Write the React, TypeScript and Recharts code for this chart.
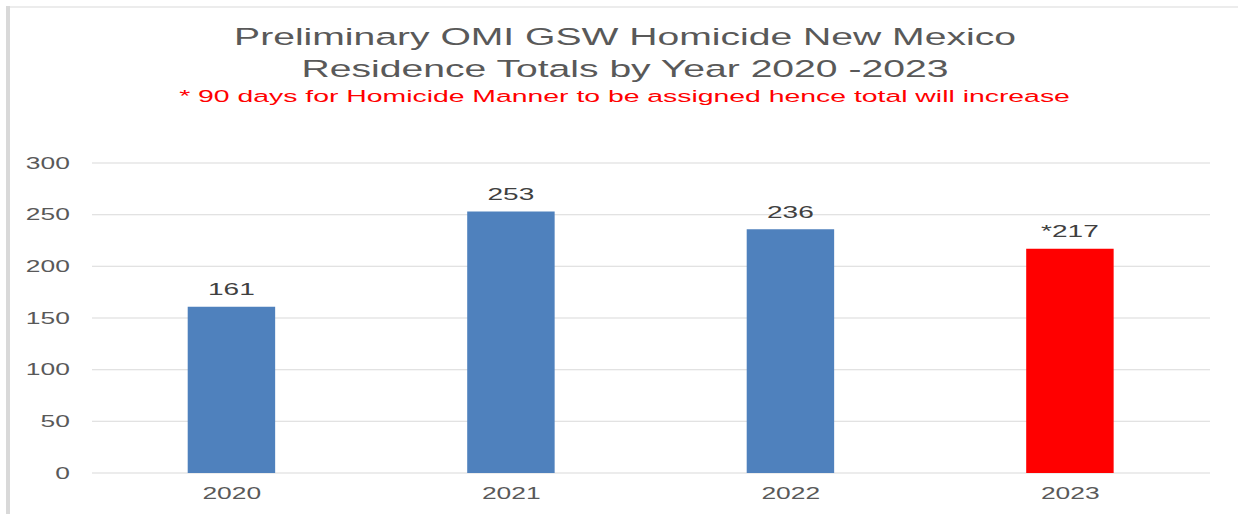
import { Bar, BarChart, CartesianGrid, Cell, LabelList, XAxis, YAxis } from "recharts";

const years = ["2020", "2021", "2022", "2023"];
const homicides = [161, 253, 236, 217];
const preliminary = [false, false, false, true];
const yTicks = [0, 50, 100, 150, 200, 250, 300];

const data = years.map((year, i) => ({
  year,
  total: homicides[i],
  preliminary: preliminary[i],
}));

// the source picture is horizontally stretched, so everything is drawn narrow and scaled up
const STRETCH = 1.65;
const W = 750;
const H = 514;
const FONT = "'Liberation Sans', Arial, sans-serif";

const YTick = (props: any) => (
  <text
    x={props.x}
    y={props.y}
    dy="0.355em"
    textAnchor="end"
    fill="#595959"
    fontSize={16}
    fontFamily={FONT}
  >
    {props.payload.value}
  </text>
);

const XTick = (props: any) => (
  <text
    x={props.x}
    y={props.y}
    dy={26}
    textAnchor="middle"
    fill="#595959"
    fontSize={16}
    fontFamily={FONT}
  >
    {props.payload.value}
  </text>
);

const ValueLabel = (props: any) => {
  const { x, y, width, index, value } = props;
  const mark = data[index].preliminary ? "*" : "";
  return (
    <text
      x={x + width / 2}
      y={y - 11.6}
      textAnchor="middle"
      fill="#404040"
      fontSize={17}
      fontFamily={FONT}
    >
      {mark + value}
    </text>
  );
};

export default function App() {
  return (
    <div
      style={{
        position: "absolute",
        left: 0,
        top: 0,
        width: 1238,
        height: H,
        background: "#fff",
        overflow: "hidden",
      }}
    >
      <div
        style={{
          position: "absolute",
          left: 6,
          top: 6,
          width: 1232,
          height: 1.5,
          background: "#ececec",
        }}
      />
      <div
        style={{
          position: "absolute",
          left: 6,
          top: 6,
          width: 4,
          height: H,
          background: "#d9d9d9",
        }}
      />

      <div
        style={{
          position: "absolute",
          left: 0,
          top: 0,
          width: W,
          height: H,
          transform: `scaleX(${STRETCH})`,
          transformOrigin: "0 0",
          fontFamily: FONT,
        }}
      >
        <div
          style={{
            position: "absolute",
            left: 0,
            top: 25.6,
            width: 757.6,
            textAlign: "center",
            color: "#595959",
            fontSize: 23.7,
            lineHeight: 1,
            whiteSpace: "nowrap",
          }}
        >
          Preliminary OMI GSW Homicide New Mexico
        </div>
        <div
          style={{
            position: "absolute",
            left: 0,
            top: 58.2,
            width: 757.6,
            textAlign: "center",
            color: "#595959",
            fontSize: 23.7,
            lineHeight: 1,
            whiteSpace: "nowrap",
          }}
        >
          Residence Totals by Year 2020 -2023
        </div>
        <div
          style={{
            position: "absolute",
            left: 0,
            top: 87.7,
            width: 757,
            textAlign: "center",
            color: "#ff0000",
            fontSize: 17.2,
            lineHeight: 1,
            whiteSpace: "nowrap",
          }}
        >
          * 90 days for Homicide Manner to be assigned hence total will increase
        </div>

        <div style={{ position: "absolute", left: 0, top: 0 }}>
          <BarChart
            width={W}
            height={H}
            data={data}
            margin={{ top: 163, right: 16.67, left: 0, bottom: 0 }}
          >
            <CartesianGrid vertical={false} stroke="#d9d9d9" />
            <XAxis
              dataKey="year"
              axisLine={false}
              tickLine={false}
              tickSize={0}
              tickMargin={0}
              height={41}
              tick={<XTick />}
            />
            <YAxis
              domain={[0, 300]}
              ticks={yTicks}
              axisLine={false}
              tickLine={false}
              tickSize={0}
              tickMargin={13.4}
              width={55.76}
              tick={<YTick />}
            />
            <Bar dataKey="total" barSize={53} isAnimationActive={false}>
              {data.map((d) => (
                <Cell key={d.year} fill={d.preliminary ? "#ff0000" : "#4f81bd"} />
              ))}
              <LabelList dataKey="total" content={<ValueLabel />} />
            </Bar>
          </BarChart>
        </div>
      </div>
    </div>
  );
}
